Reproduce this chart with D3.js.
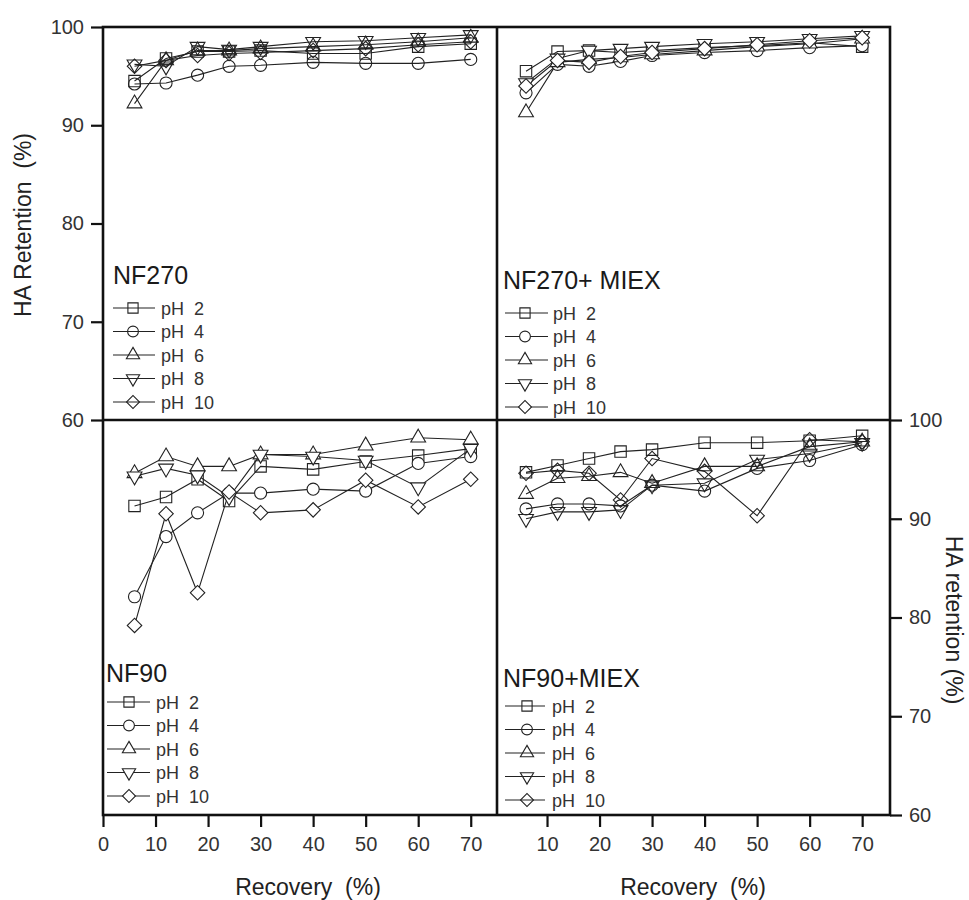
<!DOCTYPE html>
<html>
<head>
<meta charset="utf-8">
<script src="https://cdn.jsdelivr.net/npm/d3@7"></script>
<title>HA retention vs recovery</title>
<style>
  body { margin:0; background:#fff; }
  text { font-family: "Liberation Sans", Arial, sans-serif; }
</style>
</head>
<body>
<script>
// recovery (%) at which samples were taken
var recovery = [6, 12, 18, 24, 30, 40, 50, 60, 70];
var phLabels = ["pH  2", "pH  4", "pH  6", "pH  8", "pH  10"];
var xTicksLeft = [0, 10, 20, 30, 40, 50, 60, 70];
var xTicksRight = [10, 20, 30, 40, 50, 60, 70];
var yTicks = [60, 70, 80, 90, 100];

// HA retention (%), one row per pH (2, 4, 6, 8, 10)
var nf270 = [
  [94.5, 96.8, 97.5, 97.5, 97.6, 97.3, 97.3, 98.0, 98.3],
  [94.2, 94.3, 95.1, 96.0, 96.1, 96.4, 96.3, 96.3, 96.7],
  [92.2, 96.6, 97.6, 97.6, 97.8, 98.0, 98.2, 98.5, 98.9],
  [96.2, 96.0, 98.0, 97.7, 98.0, 98.5, 98.6, 98.9, 99.2],
  [96.0, 96.6, 97.1, 97.3, 97.4, 97.6, 97.8, 98.2, 98.5]
];
var nf270miex = [
  [95.5, 97.5, 97.6, 97.4, 97.6, 97.9, 98.1, 98.4, 98.0],
  [93.3, 96.2, 96.0, 96.5, 97.1, 97.4, 97.6, 97.9, 98.1],
  [91.3, 96.4, 96.7, 96.9, 97.2, 97.6, 98.0, 98.3, 98.8],
  [94.3, 96.8, 97.6, 97.8, 98.0, 98.3, 98.5, 98.8, 99.1],
  [94.0, 96.6, 96.4, 97.0, 97.4, 97.8, 98.2, 98.6, 98.9]
];
var nf90 = [
  [91.3, 92.2, 94.0, 91.8, 95.3, 95.0, 95.8, 96.4, 97.1],
  [82.1, 88.2, 90.6, 92.6, 92.6, 93.0, 92.8, 95.6, 96.3],
  [94.6, 96.3, 95.3, 95.3, 96.5, 96.5, 97.4, 98.2, 98.0],
  [94.3, 95.1, 94.4, 92.2, 96.5, 96.3, 95.9, 93.2, 97.1],
  [79.2, 90.5, 82.5, 92.7, 90.6, 90.9, 93.9, 91.2, 94.0]
];
var nf90miex = [
  [94.7, 95.4, 96.1, 96.8, 97.0, 97.7, 97.7, 97.9, 98.4],
  [91.0, 91.5, 91.5, 91.3, 93.4, 92.8, 95.1, 95.9, 97.5],
  [92.5, 94.1, 94.3, 94.7, 93.6, 95.3, 95.3, 97.3, 97.8],
  [90.0, 90.7, 90.7, 90.9, 93.4, 93.6, 96.0, 96.6, 97.7],
  [94.6, 94.9, 94.6, 91.9, 96.1, 94.8, 90.3, 98.0, 97.8]
];

var W = 969, H = 900;
var L = 103, M = 497, R = 890, T = 27, MID = 420, B = 815;

var svg = d3.select("body").append("svg").attr("width", W).attr("height", H);

var xLeft = d3.scaleLinear().domain([0, 75]).range([L, M]);
var xRight = d3.scaleLinear().domain([0, 75.3]).range([494.5, R]);
var yTop = d3.scaleLinear().domain([60, 100]).range([MID, T]);
var yBot = d3.scaleLinear().domain([60, 100]).range([B, MID]);

var shapes = [
  { type: d3.symbolSquare, size: 130, rot: 0 },
  { type: d3.symbolCircle, size: 115, rot: 0 },
  { type: d3.symbolTriangle, size: 95, rot: 0 },
  { type: d3.symbolTriangle, size: 95, rot: 180 },
  { type: d3.symbolSquare, size: 105, rot: 45 }
];

var panels = [
  { name: "NF270", data: nf270, x: xLeft, y: yTop, fill: "none",
    lx: 113, ty: 284, ly: 308, lineX: [113, 155], mx: 133, tx: 161 },
  { name: "NF270+ MIEX", data: nf270miex, x: xRight, y: yTop, fill: "#fff",
    lx: 503, ty: 289, ly: 313, lineX: [505, 548], mx: 525, tx: 553 },
  { name: "NF90", data: nf90, x: xLeft, y: yBot, fill: "#fff",
    lx: 106, ty: 682, ly: 702, lineX: [107, 150], mx: 129, tx: 156 },
  { name: "NF90+MIEX", data: nf90miex, x: xRight, y: yBot, fill: "none",
    lx: 503, ty: 687, ly: 706, lineX: [505, 545], mx: 527, tx: 552 }
];

function sym(s, scale) {
  return d3.symbol().type(s.type).size(s.size * (scale || 1))();
}

panels.forEach(function(p) {
  var g = svg.append("g");
  var line = d3.line()
    .x(function(d, i) { return p.x(recovery[i]); })
    .y(function(d) { return p.y(d); });

  p.data.forEach(function(series, k) {
    g.append("path")
      .attr("d", line(series))
      .attr("fill", "none")
      .attr("stroke", "#222")
      .attr("stroke-width", 1.1);
  });
  p.data.forEach(function(series, k) {
    var s = shapes[k];
    g.selectAll(null)
      .data(series)
      .enter().append("path")
      .attr("d", sym(s))
      .attr("transform", function(d, i) {
        return "translate(" + p.x(recovery[i]) + "," + p.y(d) + ") rotate(" + s.rot + ")";
      })
      .attr("fill", k === 0 ? "none" : p.fill)
      .attr("stroke", "#222")
      .attr("stroke-width", 1.1);
  });

  // legend
  g.append("text")
    .attr("x", p.lx).attr("y", p.ty)
    .attr("font-size", 25).attr("fill", "#1a1a1a")
    .text(p.name);
  phLabels.forEach(function(lab, k) {
    var yy = p.ly + k * 23.5;
    var s = shapes[k];
    g.append("line")
      .attr("x1", p.lineX[0]).attr("x2", p.lineX[1])
      .attr("y1", yy).attr("y2", yy)
      .attr("stroke", "#222").attr("stroke-width", 1.1);
    g.append("path")
      .attr("d", sym(s, 0.8))
      .attr("transform", "translate(" + p.mx + "," + yy + ") rotate(" + s.rot + ")")
      .attr("fill", (k === 0 || p.fill === "none") ? "none" : "#fff")
      .attr("stroke", "#222").attr("stroke-width", 1.1);
    g.append("text")
      .attr("x", p.tx).attr("y", yy + 6.5)
      .attr("font-size", 18).attr("fill", "#333")
      .style("white-space", "pre")
      .text(lab);
  });
});

// axes
function styleAxis(a) {
  a.select(".domain").remove();
  a.selectAll(".tick line").attr("stroke", "#111").attr("stroke-width", 2.2);
  a.selectAll(".tick text").attr("font-size", 20).attr("fill", "#333")
    .attr("font-family", "Liberation Sans, Arial, sans-serif");
}

svg.append("g").attr("transform", "translate(" + L + ",0)")
  .call(d3.axisLeft(yTop).tickValues(yTicks).tickSize(12).tickPadding(7))
  .call(styleAxis);

svg.append("g").attr("transform", "translate(" + R + ",0)")
  .call(d3.axisRight(yBot).tickValues(yTicks).tickSize(12).tickPadding(7))
  .call(styleAxis);

svg.append("g").attr("transform", "translate(0," + B + ")")
  .call(d3.axisBottom(xLeft).tickValues(xTicksLeft).tickSize(12).tickPadding(10))
  .call(styleAxis);

svg.append("g").attr("transform", "translate(0," + B + ")")
  .call(d3.axisBottom(xRight).tickValues(xTicksRight).tickSize(12).tickPadding(10))
  .call(styleAxis);

// frame and dividers
var frame = svg.append("g").attr("stroke", "#111").attr("stroke-width", 2.6).attr("fill", "none");
frame.append("rect").attr("x", L).attr("y", T).attr("width", R - L).attr("height", B - T);
frame.append("line").attr("x1", M).attr("x2", M).attr("y1", T).attr("y2", B);
frame.append("line").attr("x1", L).attr("x2", R).attr("y1", MID).attr("y2", MID);

// axis titles
svg.append("text")
  .attr("transform", "translate(31,225) rotate(-90)")
  .attr("text-anchor", "middle").attr("font-size", 23).attr("fill", "#222")
  .style("white-space", "pre")
  .text("HA Retention  (%)");

svg.append("text")
  .attr("transform", "translate(946,620) rotate(90)")
  .attr("text-anchor", "middle").attr("font-size", 23).attr("fill", "#222")
  .text("HA retention (%)");

svg.append("text")
  .attr("x", (L + M) / 2 + 8).attr("y", 895)
  .attr("text-anchor", "middle").attr("font-size", 23).attr("fill", "#222")
  .style("white-space", "pre")
  .text("Recovery  (%)");

svg.append("text")
  .attr("x", 693).attr("y", 895)
  .attr("text-anchor", "middle").attr("font-size", 23).attr("fill", "#222")
  .style("white-space", "pre")
  .text("Recovery  (%)");
</script>
</body>
</html>
